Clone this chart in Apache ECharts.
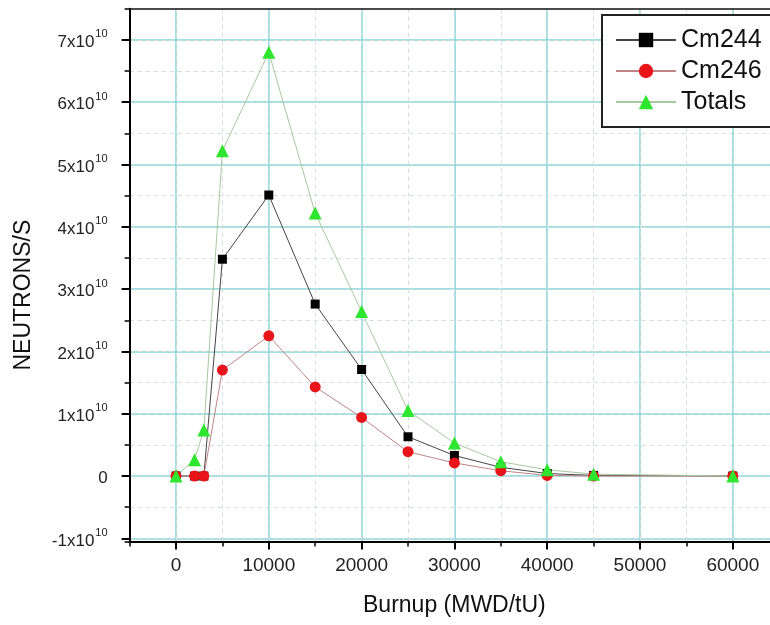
<!DOCTYPE html>
<html>
<head>
<meta charset="utf-8">
<script src="https://cdn.jsdelivr.net/npm/echarts@6/dist/echarts.min.js"></script>
<style>
  html, body { margin: 0; padding: 0; background: #fff; }
  #chart { width: 770px; height: 625px; }
</style>
</head>
<body>
<div id="chart"></div>
<script>
// Burnup steps (MWD/tU) and neutron source strengths (neutrons/s)
const burnup = [0, 2000, 3000, 5000, 10000, 15000, 20000, 25000, 30000, 35000, 40000, 45000, 60000];
const cm244  = [0, 0, 0, 3.48e10, 4.51e10, 2.76e10, 1.71e10, 0.63e10, 0.33e10, 0.14e10, 0.04e10, 0.01e10, 0];
const cm246  = [0, 0, 0, 1.70e10, 2.25e10, 1.43e10, 0.94e10, 0.39e10, 0.21e10, 0.085e10, 0.01e10, 0, 0];
const totals = [0, 0.26e10, 0.74e10, 5.22e10, 6.80e10, 4.22e10, 2.64e10, 1.05e10, 0.53e10, 0.23e10, 0.10e10, 0.03e10, 0];

const seriesNames = ['Cm244', 'Cm246', 'Totals'];
const xAxisName = 'Burnup (MWD/tU)';
const yAxisName = 'NEUTRONS/S';

const FONT = "'Liberation Sans', Arial, sans-serif";
const MAJOR_GRID = '#84d6da';
const MINOR_GRID = '#d6dde0';

const pairs = (ys) => burnup.map((x, i) => [x, ys[i]]);

// "7x10^10" style labels with a raised exponent
function powerLabel(v) {
  const m = v / 1e10;
  if (Math.abs(m - Math.round(m)) > 1e-6) return '';
  const n = Math.round(m);
  if (n === 0) return '{b|0}';
  return '{b|' + n + 'x10}{s|10}';
}
function burnupLabel(v) {
  return (Math.abs(v % 10000) < 1e-6) ? String(v) : '';
}

const xRange = { min: -5000, max: 65000 };
const yRange = { min: -1.05e10, max: 7.5e10 };

const chart = echarts.init(document.getElementById('chart'), null, { renderer: 'canvas' });

chart.setOption({
  animation: false,
  backgroundColor: '#fff',
  textStyle: { fontFamily: FONT },
  grid: { left: 129.6, top: 8.75, width: 649.6, height: 532.7,
          containLabel: false, outerBoundsMode: 'none' },
  legend: {
    data: seriesNames,
    orient: 'vertical',
    left: 602, top: 15,
    itemWidth: 60, itemHeight: 18, itemGap: 5,
    padding: [12, 10, 12, 13],
    borderColor: '#222', borderWidth: 2,
    backgroundColor: '#fff',
    textStyle: { fontSize: 25, color: '#111', fontFamily: FONT, lineHeight: 26 }
  },
  xAxis: [
    { // major ticks, labels, solid grid
      type: 'value', position: 'bottom', ...xRange, splitNumber: 7,
      name: xAxisName, nameLocation: 'middle', nameGap: 53,
      nameTextStyle: { fontSize: 23, color: '#111', fontFamily: FONT },
      axisLine: { onZero: false, lineStyle: { color: '#000', width: 2 } },
      axisTick: { length: 8, lineStyle: { color: '#000', width: 2 } },
      axisLabel: { formatter: burnupLabel, showMinLabel: false, showMaxLabel: false,
                   fontSize: 19, color: '#222', margin: 15, fontFamily: FONT },
      splitLine: { show: true, showMinLine: false, showMaxLine: false,
                   lineStyle: { color: MAJOR_GRID, width: 1.5 } }
    },
    { // minor ticks and dashed grid every 5000
      type: 'value', position: 'bottom', ...xRange, interval: 5000,
      axisLine: { show: false, onZero: false },
      axisTick: { length: 5, lineStyle: { color: '#000', width: 1.5 } },
      axisLabel: { show: false },
      splitLine: { show: true, showMinLine: false, showMaxLine: false,
                   lineStyle: { color: MINOR_GRID, width: 1, type: [4, 4] } }
    },
    { // top frame line
      type: 'value', position: 'top', ...xRange,
      axisLine: { onZero: false, lineStyle: { color: '#111', width: 1.5 } },
      axisTick: { show: false }, axisLabel: { show: false }, splitLine: { show: false }
    }
  ],
  yAxis: [
    {
      type: 'value', position: 'left', ...yRange, splitNumber: 8,
      name: yAxisName, nameLocation: 'middle', nameGap: 94,
      nameTextStyle: { fontSize: 23, color: '#111', fontFamily: FONT, padding: [0, 40, 0, 0] },
      axisLine: { show: true, onZero: false, lineStyle: { color: '#000', width: 2 } },
      axisTick: { show: true, length: 8, lineStyle: { color: '#000', width: 2 } },
      axisLabel: {
        formatter: powerLabel, showMinLabel: false, showMaxLabel: false,
        margin: 22, color: '#222',
        rich: {
          b: { fontSize: 17, fontFamily: FONT, color: '#222', lineHeight: 22, verticalAlign: 'bottom' },
          s: { fontSize: 11, fontFamily: FONT, color: '#222', lineHeight: 22, verticalAlign: 'top', padding: [0, 0, 0, 1] }
        }
      },
      splitLine: { show: true, showMinLine: false, showMaxLine: false,
                   lineStyle: { color: MAJOR_GRID, width: 1.5 } }
    },
    {
      type: 'value', position: 'left', ...yRange, splitNumber: 17,
      axisLine: { show: false, onZero: false },
      axisTick: { show: true, length: 5, lineStyle: { color: '#000', width: 1.5 } },
      axisLabel: { show: false },
      splitLine: { show: true, showMinLine: false, showMaxLine: false,
                   lineStyle: { color: MINOR_GRID, width: 1, type: [4, 4] } }
    }
  ],
  series: [
    {
      name: 'Cm244', type: 'line', xAxisIndex: 0, yAxisIndex: 0,
      data: pairs(cm244),
      symbol: 'rect', symbolSize: 9,
      itemStyle: { color: '#000' },
      lineStyle: { color: '#444', width: 1 },
      emphasis: { disabled: true }
    },
    {
      name: 'Cm246', type: 'line', xAxisIndex: 0, yAxisIndex: 0,
      data: pairs(cm246),
      symbol: 'circle', symbolSize: 11,
      itemStyle: { color: '#e8141a' },
      lineStyle: { color: '#c08585', width: 1 },
      emphasis: { disabled: true }
    },
    {
      name: 'Totals', type: 'line', xAxisIndex: 0, yAxisIndex: 0,
      data: pairs(totals),
      symbol: 'triangle', symbolSize: 13,
      itemStyle: { color: '#2ee62e' },
      lineStyle: { color: '#a8c8a0', width: 1 },
      emphasis: { disabled: true }
    }
  ]
});
</script>
</body>
</html>
